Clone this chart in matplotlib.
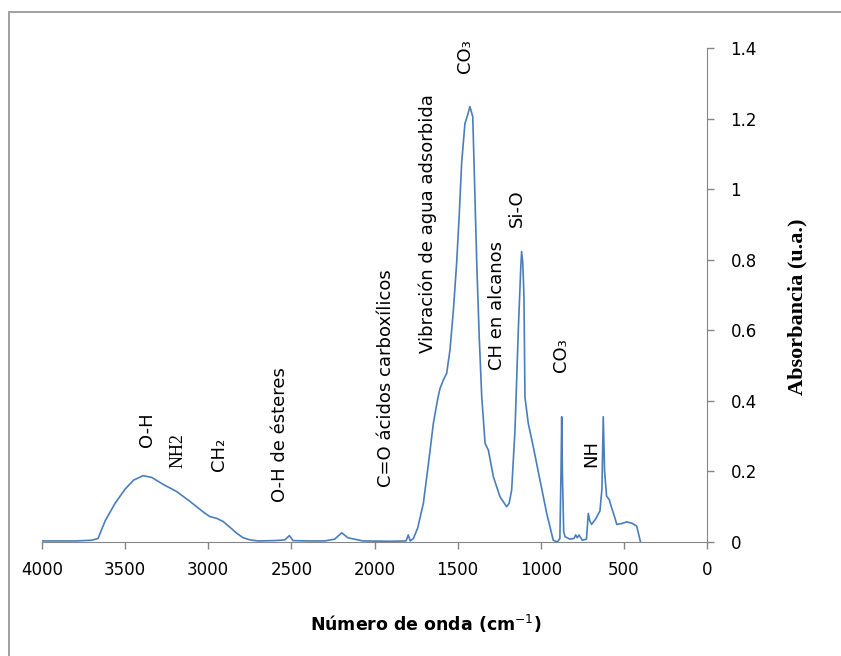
import matplotlib
matplotlib.use('Agg')
import matplotlib.pyplot as plt
from matplotlib.patches import Rectangle

# spectrum (cm^-1, absorbance)
wavenumber = [4000, 3800, 3700, 3663, 3620, 3560, 3500, 3450, 3392, 3340, 3270, 3190,
              3110, 3030, 2990, 2949, 2910, 2870, 2829, 2790, 2749, 2700, 2600, 2540,
              2512, 2490, 2400, 2300, 2240, 2197, 2160, 2100, 2069, 1900, 1810, 1797,
              1785, 1766, 1740, 1706, 1676, 1646, 1620, 1606, 1585, 1566, 1546, 1525,
              1506, 1490, 1476, 1456, 1440, 1426, 1409, 1397, 1385, 1370, 1355, 1335,
              1315, 1285, 1245, 1205, 1190, 1175, 1155, 1135, 1120, 1115, 1108, 1101,
              1095, 1075, 1045, 1005, 964, 925, 900, 885, 878, 874, 870, 862, 854, 824,
              800, 790, 780, 770, 750, 725, 714, 705, 694, 670, 644, 632, 624, 616, 604,
              588, 573, 555, 543, 515, 483, 450, 423, 410, 400]
absorbance = [0.003, 0.003, 0.005, 0.01, 0.06, 0.11, 0.15, 0.175, 0.188, 0.183, 0.163, 0.143,
              0.115, 0.085, 0.072, 0.067, 0.058, 0.042, 0.025, 0.012, 0.006, 0.003, 0.004, 0.006,
              0.018, 0.004, 0.003, 0.003, 0.008, 0.026, 0.012, 0.006, 0.003, 0.002, 0.003, 0.02,
              0.003, 0.01, 0.04, 0.11, 0.22, 0.336, 0.405, 0.435, 0.46, 0.478, 0.544, 0.66,
              0.79, 0.93, 1.073, 1.186, 1.21, 1.234, 1.205, 1.0, 0.79, 0.58, 0.412, 0.28,
              0.26, 0.185, 0.128, 0.1, 0.11, 0.147, 0.317, 0.6, 0.78, 0.823, 0.79, 0.695,
              0.41, 0.336, 0.27, 0.176, 0.081, 0.005, 0.0, 0.01, 0.2, 0.355, 0.2, 0.03, 0.015, 0.008,
              0.01, 0.02, 0.012, 0.02, 0.005, 0.008, 0.081, 0.06, 0.05, 0.065, 0.088, 0.15, 0.355, 0.2, 0.13,
              0.12, 0.096, 0.07, 0.05, 0.052, 0.057, 0.053, 0.045, 0.02, 0.0]

# band labels: text, wavenumber, absorbance of the text's lower end
band_labels = ['O-H', 'NH2', 'CH₂', 'O-H de ésteres', 'C=O ácidos carboxílicos',
               'Vibración de agua adsorbida', 'CO₃', 'CH en alcanos', 'Si-O', 'CO₃', 'NH']
band_x = [3367, 3179, 2935, 2568, 1931, 1678, 1456, 1263, 1143, 878, 698]
band_y = [0.270, 0.21, 0.202, 0.114, 0.157, 0.535, 1.328, 0.487, 0.893, 0.483, 0.212]

x_ticks = [4000, 3500, 3000, 2500, 2000, 1500, 1000, 500, 0]
y_ticks = [0, 0.2, 0.4, 0.6, 0.8, 1, 1.2, 1.4]
y_tick_labels = ['0', '0.2', '0.4', '0.6', '0.8', '1', '1.2', '1.4']

grey = '#868686'
serif = ['Liberation Serif', 'DejaVu Serif']

fig = plt.figure(figsize=(8.41, 6.56), dpi=100)
fig.patches.append(Rectangle((9/841, -0.1), 1.2, 1 - 12/656 + 0.1, transform=fig.transFigure,
                             fill=False, edgecolor='#9a9a9a', linewidth=1.3))
ax = fig.add_axes([42/841, 1 - 542/656, 665/841, 494/656])

ax.plot(wavenumber, absorbance, color='#4a7ebb', linewidth=1.2)

ax.set_xlim(4000, 0)
ax.set_ylim(0, 1.4)
ax.yaxis.tick_right()
ax.spines['top'].set_visible(False)
ax.spines['left'].set_visible(False)
ax.spines['bottom'].set_color(grey)
ax.spines['right'].set_color(grey)
ax.set_xticks(x_ticks)
ax.set_xticklabels([str(t) for t in x_ticks], fontsize=12)
ax.set_yticks(y_ticks)
ax.set_yticklabels(y_tick_labels, fontsize=12)
ax.tick_params(axis='both', direction='out', color=grey, length=5, width=1)
ax.tick_params(axis='x', pad=9)
ax.tick_params(axis='y', pad=12)

fig.text(426/841, 1 - 624/656, 'Número de onda (cm$^{-1}$)', ha='center', va='center',
         fontsize=12.5, fontweight='bold')
fig.text(797/841, 1 - 307/656, 'Absorbancia (u.a.)', ha='center', va='center',
         rotation=90, fontsize=16, fontweight='bold', family=serif)

for txt, bx, by in zip(band_labels, band_x, band_y):
    fam = serif if txt == 'NH2' else ['DejaVu Sans']
    ax.text(bx, by, txt, rotation=90, ha='center', va='bottom', fontsize=13,
            family=fam, color='black')

fig.savefig('out.png', dpi=100)
